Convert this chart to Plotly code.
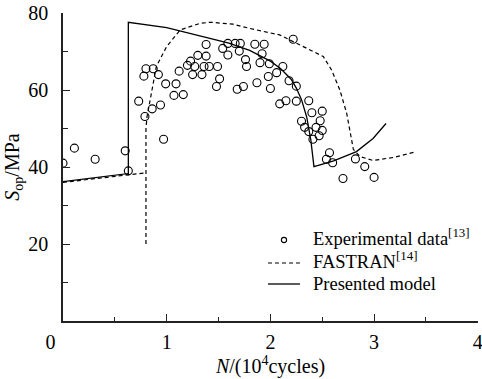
import plotly.graph_objects as go

# Experimental crack-opening stress data (N in 10^4 cycles, S_op in MPa)
exp_n = [0.00, 0.11, 0.31, 0.60, 0.63, 0.73, 0.79, 0.78, 0.80, 0.87,
         0.92, 0.86, 0.94, 0.97, 0.99, 1.09, 1.07, 1.16, 1.12, 1.20,
         1.23, 1.30, 1.25, 1.27, 1.34, 1.36, 1.38, 1.38, 1.41, 1.49,
         1.48, 1.51, 1.54, 1.59, 1.59, 1.66, 1.71, 1.70, 1.68, 1.74,
         1.76, 1.77, 1.85, 1.94, 1.92, 1.90, 1.99, 1.87, 1.98, 2.00,
         2.06, 2.12, 2.18, 2.25, 2.22, 2.09, 2.15, 2.25, 2.37, 2.40,
         2.50, 2.30, 2.33, 2.37, 2.44, 2.48, 2.50, 2.47, 2.41, 2.57,
         2.54, 2.60, 2.82, 2.91, 2.70, 3.00]
exp_s = [41.0, 44.9, 42.0, 44.2, 39.0, 57.1, 53.1, 63.6, 65.5, 65.5,
         64.0, 55.1, 56.1, 47.2, 61.6, 61.6, 58.6, 58.8, 64.9, 66.4,
         67.5, 69.0, 64.0, 66.1, 64.0, 66.1, 71.8, 68.8, 66.1, 66.1,
         60.9, 62.9, 70.8, 72.1, 69.1, 72.1, 72.1, 70.1, 60.2, 60.9,
         67.9, 66.1, 71.9, 71.9, 69.4, 67.1, 66.8, 61.9, 63.5, 60.4,
         64.5, 66.1, 62.4, 61.0, 73.2, 56.4, 57.2, 57.1, 57.2, 54.1,
         54.5, 51.9, 50.3, 49.2, 50.3, 52.0, 49.5, 48.1, 47.2, 43.7,
         42.0, 41.1, 42.1, 40.1, 37.0, 37.3]

# FASTRAN prediction (None splits the pre-overload part from the rest)
fastran_n = [0.00, 0.80, None, 0.80, 0.80, 0.81, 0.855, 0.90, 1.00, 1.13,
             1.32, 1.42, 1.64, 1.80, 2.09, 2.285, 2.46, 2.51, 2.59, 2.67,
             2.736, 2.78, 2.80, 2.864, 2.99, 3.19, 3.38]
fastran_s = [36.0, 38.5, None, 20.0, 50.0, 53.0, 59.1, 66.1, 71.3, 75.6,
             77.3, 77.6, 77.1, 76.0, 74.3, 71.7, 69.5, 68.7, 65.2, 60.0,
             53.9, 47.9, 44.6, 42.7, 41.7, 42.5, 43.8]

# Presented model
model_n = [0.00, 0.63, 0.63, 1.00, 1.30, 1.60, 1.80, 2.00, 2.10, 2.20,
           2.25, 2.30, 2.35, 2.39, 2.42, 2.61, 2.83, 2.99, 3.115]
model_s = [36.2, 38.3, 77.6, 76.2, 74.2, 72.2, 70.3, 67.5, 65.5, 62.8,
           60.5, 57.5, 53.0, 47.0, 40.1, 41.6, 44.0, 47.4, 51.3]

x_ticks = [0, 1, 2, 3, 4]
x_ticklabels = ["0\u00a0\u00a0\u00a0\u00a0\u00a0", "1", "2", "3", "4"]
y_ticks = [20, 40, 60, 80]

legend_labels = ["Experimental data<sup>[13]</sup>",
                 "FASTRAN<sup>[14]</sup>",
                 "Presented model"]

FONT = "Liberation Serif"
AXIS_COLOR = "#222222"
DASH = "4px,3px"

fig = go.Figure()
fig.add_trace(go.Scatter(
    x=exp_n, y=exp_s, mode="markers", name=legend_labels[0],
    marker=dict(symbol="circle-open", size=8, color="black",
                line=dict(width=1.1, color="black")),
))
fig.add_trace(go.Scatter(
    x=fastran_n, y=fastran_s, mode="lines", name=legend_labels[1],
    line=dict(color="black", width=1.2, dash=DASH),
    connectgaps=False,
))
fig.add_trace(go.Scatter(
    x=model_n, y=model_s, mode="lines", name=legend_labels[2],
    line=dict(color="black", width=1.3),
))

# Compact key in the lower right of the plot area (plot box: 415 x 308 px)
def px_y(py):
    return (321 - py) / 308

key_x0, key_x1, key_text_x = 0.494, 0.571, 0.598
text_rows = [px_y(237), px_y(260), px_y(284)]
sample_rows = [px_y(240), px_y(263), px_y(284)]
shapes = [
    dict(type="circle", xref="paper", yref="paper",
         xsizemode="pixel", ysizemode="pixel",
         xanchor=(key_x0 + key_x1) / 2, yanchor=sample_rows[0],
         x0=-2.6, x1=2.6, y0=-2.6, y1=2.6,
         line=dict(color="black", width=1.1)),
    dict(type="line", xref="paper", yref="paper",
         x0=key_x0, x1=key_x1, y0=sample_rows[1], y1=sample_rows[1],
         line=dict(color="black", width=1.2, dash=DASH)),
    dict(type="line", xref="paper", yref="paper",
         x0=key_x0, x1=key_x1, y0=sample_rows[2], y1=sample_rows[2],
         line=dict(color="black", width=1.3)),
]
annotations = [
    dict(xref="paper", yref="paper", x=key_text_x, y=yy, text=label,
         showarrow=False, xanchor="left", yanchor="middle",
         font=dict(family=FONT, size=18.5, color="black"))
    for label, yy in zip(legend_labels, text_rows)
]

fig.update_layout(
    width=482, height=379,
    margin=dict(l=63, r=4, t=13, b=58, autoexpand=False),
    plot_bgcolor="white", paper_bgcolor="white",
    font=dict(family=FONT, size=20, color="black"),
    showlegend=False,
    shapes=shapes,
    annotations=annotations,
)
fig.update_xaxes(
    range=[0, 4.002], tickvals=x_ticks, ticktext=x_ticklabels,
    ticklabeloverflow="allow", automargin=False,
    showgrid=False, zeroline=False,
    showline=True, linecolor=AXIS_COLOR, linewidth=1.5,
    ticks="inside", ticklen=7, tickwidth=1.2, tickcolor=AXIS_COLOR,
    minor=dict(dtick=0.5, ticks="inside", ticklen=4, tickwidth=1.2,
               tickcolor=AXIS_COLOR, showgrid=False),
    tickfont=dict(family=FONT, size=20),
    ticklabelstandoff=2,
    title=dict(text="<i>N</i>/(10<sup>4</sup>cycles)",
               font=dict(family=FONT, size=20), standoff=6),
)
fig.update_yaxes(
    range=[0, 80], tickvals=y_ticks, automargin=False,
    showgrid=False, zeroline=False,
    showline=True, linecolor=AXIS_COLOR, linewidth=1.5,
    ticks="inside", ticklen=7, tickwidth=1.2, tickcolor=AXIS_COLOR,
    minor=dict(dtick=10, ticks="inside", ticklen=5, tickwidth=1.2,
               tickcolor=AXIS_COLOR, showgrid=False),
    tickfont=dict(family=FONT, size=20),
    ticklabelstandoff=9,
    title=dict(text="<i>S</i><sub>op</sub>/MPa",
               font=dict(family=FONT, size=20), standoff=3),
)

fig.write_html("out.html")
